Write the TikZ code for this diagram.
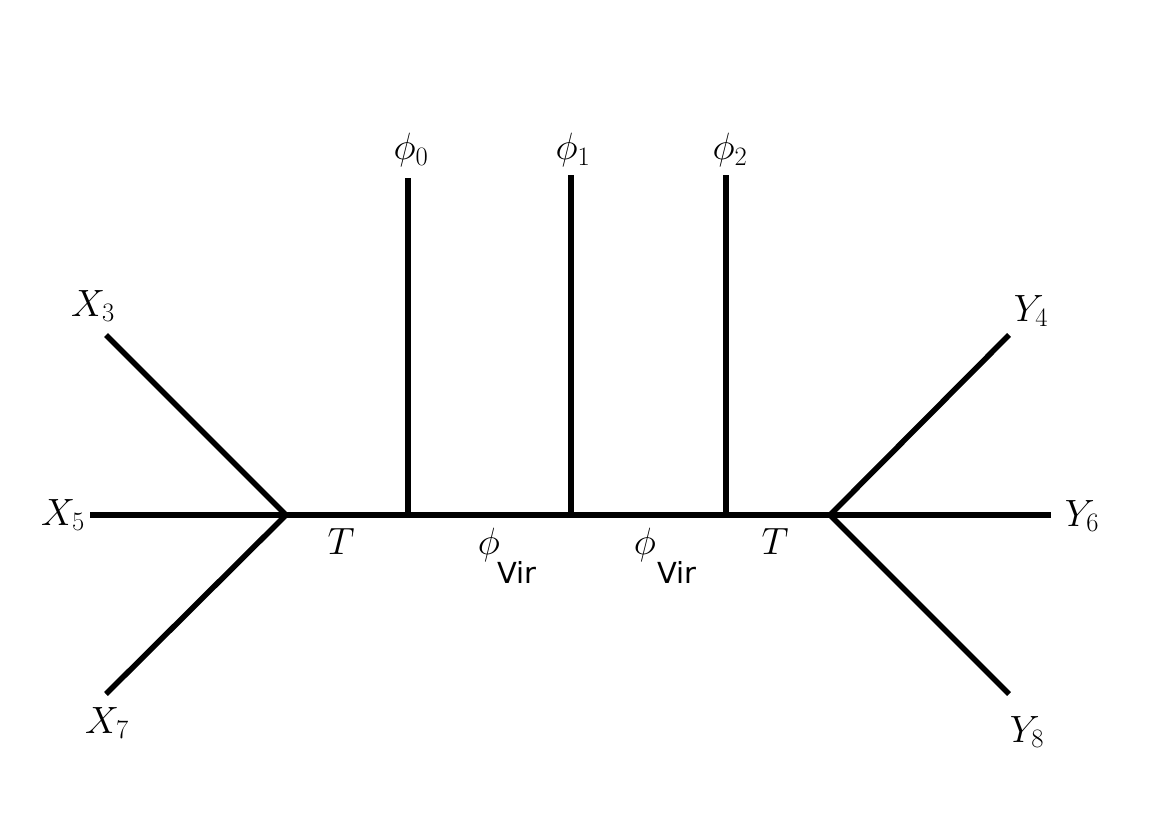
\RequirePackage{fix-cm}
\documentclass[tikz,border=0pt]{standalone}
\usepackage{fontspec}
\newfontfamily\dejavu{DejaVu Sans}
\begin{document}
\begin{tikzpicture}[x=1pt,y=-1pt,
  edge/.style={line width=5.5pt,line cap=butt},
  lbl/.style={inner sep=0pt,font=\fontsize{38}{44}\selectfont},
  vir/.style={inner sep=0pt,font=\dejavu\fontsize{29}{34}\selectfont}]
\useasboundingbox (0,0) rectangle (1169,826);
% vertices and ends
\coordinate (L) at (286,515);
\coordinate (R) at (830,515);
\coordinate (A) at (408,515);
\coordinate (B) at (571,515);
\coordinate (C) at (726,515);
\coordinate (X3e) at (106,335);
\coordinate (X5e) at (90,515);
\coordinate (X7e) at (106,694);
\coordinate (Y4e) at (1009,335);
\coordinate (Y6e) at (1051,515);
\coordinate (Y8e) at (1009,694);
\coordinate (P0e) at (408,178);
\coordinate (P1e) at (571,175);
\coordinate (P2e) at (726,175);
% lines
\draw[edge] (X5e) -- (Y6e);
\draw[edge] (X3e) -- (L) -- (X7e);
\draw[edge] (Y4e) -- (R) -- (Y8e);
\draw[edge] (A) -- (P0e);
\draw[edge] (B) -- (P1e);
\draw[edge] (C) -- (P2e);
% labels
\node[lbl] (p0) at (411,150) {$\phi_0$};
\node[lbl] (p1) at (573,150) {$\phi_1$};
\node[lbl] (p2) at (730,150) {$\phi_2$};
\node[lbl] (x3) at (93,306) {$X_3$};
\node[lbl] (x5) at (63,515) {$X_5$};
\node[lbl] (x7) at (107,723) {$X_7$};
\node[lbl] (y4) at (1031,311) {$Y_4$};
\node[lbl] (y6) at (1082,516) {$Y_6$};
\node[lbl] (y8) at (1027,732) {$Y_8$};
\node[lbl] (t1) at (341,542) {$T$};
\node[lbl] (t2) at (775,542) {$T$};
\node[lbl] (f1) at (489,545) {$\phi$};
\node[vir] (v1) at (517,572) {Vir};
\node[lbl] (f2) at (645,545) {$\phi$};
\node[vir] (v2) at (677,572) {Vir};
\end{tikzpicture}
\end{document}
